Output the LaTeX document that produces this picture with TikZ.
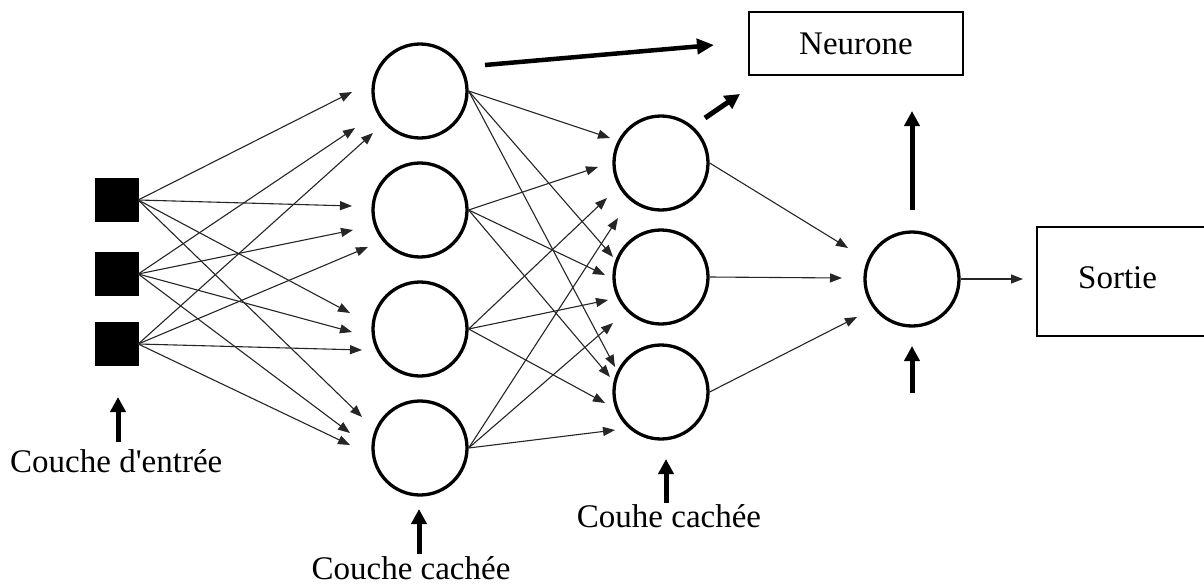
\documentclass[tikz,border=0pt]{standalone}
\usepackage{fontspec}
\setmainfont{Liberation Serif}
\usetikzlibrary{arrows.meta}
\begin{document}
\begin{tikzpicture}[x=1pt,y=-1pt,
  inbox/.style={fill=black,draw=black,minimum size=43pt,inner sep=0pt},
  neuron/.style={circle,draw=black,line width=3.3pt,minimum size=94pt,inner sep=0pt},
  syn/.style={draw=black!85,line width=1.1pt,-{Triangle[length=12pt,width=9pt]}},
  bigarrow/.style={line width=4.5pt,-{Triangle[length=17pt,width=15pt]}},
  uparrow/.style={line width=5pt,-{Triangle[length=15pt,width=15pt]}},
  labelbox/.style={draw=black,line width=2.2pt,inner sep=0pt},
  lbl/.style={font=\fontsize{33}{38}\selectfont,inner sep=0pt}]
\clip (0,0) rectangle (1204,586);
\fill[white] (0,0) rectangle (1204,586);

% input layer
\node[inbox] (in1) at (116.5,200) {};
\node[inbox] (in2) at (116.5,274) {};
\node[inbox] (in3) at (116.5,344) {};

% first hidden layer
\node[neuron] (h1) at (420,91) {};
\node[neuron] (h2) at (420,210) {};
\node[neuron] (h3) at (420,329) {};
\node[neuron] (h4) at (420,448) {};

% second hidden layer
\node[neuron] (g1) at (661,163) {};
\node[neuron] (g2) at (661,277) {};
\node[neuron] (g3) at (661,392) {};

% output neuron
\node[neuron] (o) at (912,279) {};

% boxes
\node[labelbox,lbl,minimum width=214pt,minimum height=63pt] (neurone) at (856,43.5) {Neurone};
\node[labelbox,minimum width=175pt,minimum height=109pt] (sortie) at (1124.5,281.5) {};
\node[lbl,anchor=base west] (sortietxt) at (1078,288) {Sortie};

% labels
\node[lbl,anchor=base west] (lin) at (10,472) {Couche d\textquotesingle entrée};
\node[lbl,anchor=base] (lh1) at (411,579) {Couche cachée};
\node[lbl,anchor=base] (lh2) at (669,527) {Couhe cachée};

% input -> first hidden layer
\foreach \s/\t/\x/\y in {1/1/352/92, 2/1/355/128, 3/1/373/133,
                         1/2/352/206, 2/2/353/230, 3/2/368/247,
                         1/3/350/313, 2/3/352/332, 3/3/362/350,
                         1/4/362/417, 2/4/350/433, 3/4/350/445}{
  \coordinate (ta\s\t) at (\x,\y);
  \draw[syn] (in\s.east) -- (ta\s\t);
}

% first hidden -> second hidden
\foreach \s/\t/\x/\y in {1/1/610/138, 2/1/598/167, 3/1/607/198, 4/1/618/218,
                         1/2/613/257, 2/2/605/275, 3/2/608/300, 4/2/613/323,
                         1/3/615/367, 2/3/610/377, 3/3/605/403, 4/3/615/430}{
  \coordinate (tb\s\t) at (\x,\y);
  \draw[syn] (h\s.east) -- (tb\s\t);
}

% second hidden -> output
\foreach \s/\x/\y in {1/848/248, 2/842/278, 3/857/317}{
  \coordinate (tc\s) at (\x,\y);
  \draw[syn] (g\s.east) -- (tc\s);
}

% output -> Sortie
\coordinate (ts) at (1023,279);
\draw[syn] (o.east) -- (ts);

% thick arrows pointing to "Neurone"
\coordinate (n1s) at (485,65);
\coordinate (n1e) at (714,45);
\draw[bigarrow] (n1s) -- (n1e);
\coordinate (n2s) at (705,118);
\coordinate (n2e) at (740,94);
\draw[uparrow] (n2s) -- (n2e);
\coordinate (n3s) at (912,210);
\coordinate (n3e) at (912,111);
\draw[uparrow] (n3s) -- (n3e);

% short arrows pointing at layers
\coordinate (a0s) at (118,442); \coordinate (a0e) at (118,397);
\draw[uparrow] (a0s) -- (a0e);
\coordinate (a1s) at (419,554); \coordinate (a1e) at (419,509);
\draw[uparrow] (a1s) -- (a1e);
\coordinate (a2s) at (666,503); \coordinate (a2e) at (666,459);
\draw[uparrow] (a2s) -- (a2e);
\coordinate (a3s) at (912,393); \coordinate (a3e) at (912,346);
\draw[uparrow] (a3s) -- (a3e);
\end{tikzpicture}
\end{document}
